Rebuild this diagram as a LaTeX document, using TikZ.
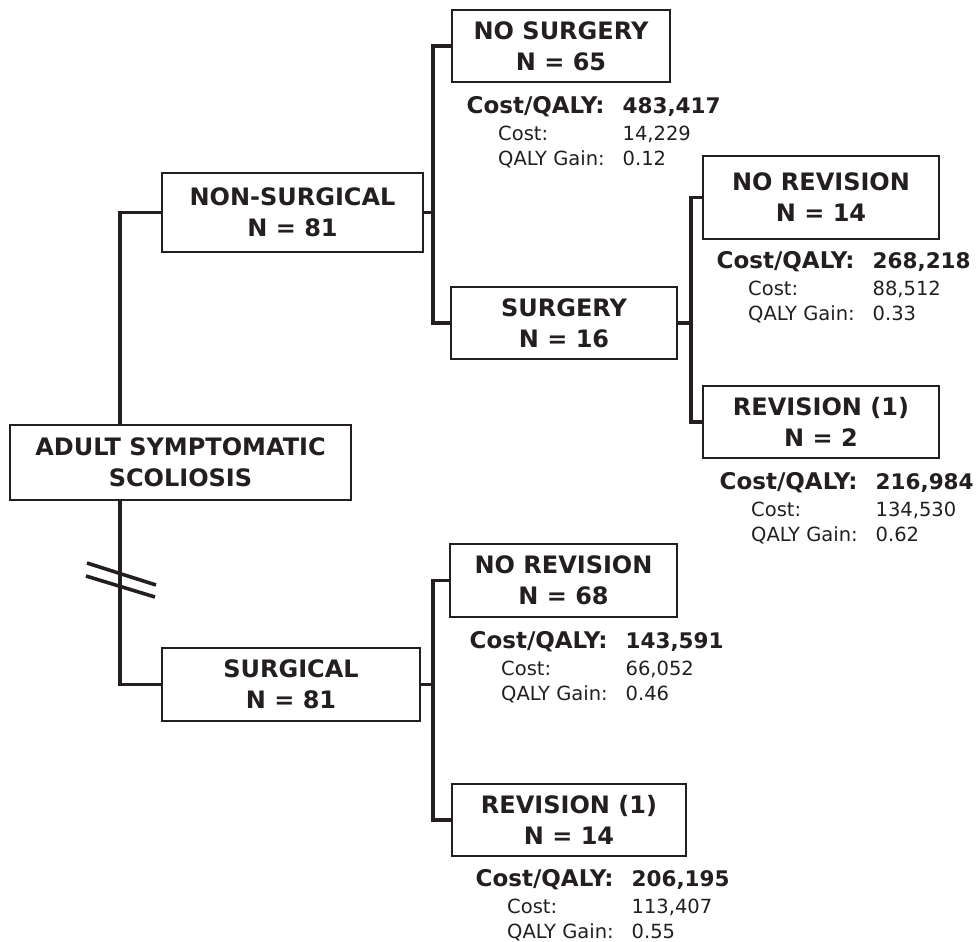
\documentclass[tikz,border=0pt]{standalone}
\usepackage{fontspec}
\setmainfont{DejaVu Sans}
\usepackage{array}
\definecolor{ink}{HTML}{231F20}
\newcommand{\cqlab}{\multicolumn{1}{@{}r@{\hspace{18pt}}}{\llap{\bfseries\fontsize{23}{25}\selectfont Cost/QALY:}}}
\newcommand{\cqval}[1]{{\bfseries\fontsize{21.5}{25}\selectfont #1}}

\begin{document}
\begin{tikzpicture}[x=1pt,y=-1pt,
  box/.style={draw=ink, line width=2.8pt, text=ink, inner sep=0pt, align=center,
    font=\fontsize{24}{31}\selectfont\bfseries},
  link/.style={draw=ink, line width=3.9pt},
  info/.style={inner sep=0pt, text=ink, anchor=base west, font=\fontsize{19.5}{25}\selectfont}]

\useasboundingbox (0,0) rectangle (977,942);

% decision boxes
\node[box, minimum width=341pt, minimum height=75pt] (root) at (180.5,462.5) {ADULT SYMPTOMATIC\\SCOLIOSIS};
\node[box, minimum width=261pt, minimum height=79pt] (nonsurg) at (292.5,212.5) {NON-SURGICAL\\N = 81};
\node[box, minimum width=258pt, minimum height=73pt] (surg) at (291,684.5) {SURGICAL\\N = 81};
\node[box, minimum width=218pt, minimum height=72pt] (nosurg) at (561,46) {NO SURGERY\\N = 65};
\node[box, minimum width=226pt, minimum height=72pt] (surgery) at (564,323) {SURGERY\\N = 16};
\node[box, minimum width=236pt, minimum height=83pt] (norevA) at (821,197.5) {NO REVISION\\N = 14};
\node[box, minimum width=236pt, minimum height=72pt] (revA) at (821,422) {REVISION (1)\\N = 2};
\node[box, minimum width=227pt, minimum height=73pt] (norevB) at (563.5,580.5) {NO REVISION\\N = 68};
\node[box, minimum width=234pt, minimum height=72pt] (revB) at (569,820) {REVISION (1)\\N = 14};

% branches
\coordinate (trunk) at (120,462.5);
\draw[link] (trunk |- root.north) |- (nonsurg.west);
\draw[link] (trunk |- root.south) |- (surg.west);

\coordinate (splitA) at (433,212.5);
\draw[link] (nonsurg.east) -- (splitA);
\draw[link] (nosurg.west) -| (splitA) |- (surgery.west);

\coordinate (splitB) at (691,323);
\draw[link] (surgery.east) -- (splitB);
\draw[link] (norevA.west) -| (splitB) |- (revA.west);

\coordinate (splitC) at (433,684.5);
\draw[link] (surg.east) -- (splitC);
\draw[link] (norevB.west) -| (splitC) |- (revB.west);

% break marks
\draw[ink, line width=3.6pt] (87,563) -- (156,585);
\draw[ink, line width=3.6pt] (86,576) -- (155,597);

% results
\node[info] (nosurg-info) at (498,113) {\begin{tabular}[t]{@{}l@{\hspace{18pt}}l@{}}
  \cqlab & \cqval{483,417}\\[2pt] Cost: & 14,229\\ QALY Gain: & 0.12\end{tabular}};
\node[info] (norevA-info) at (748,268) {\begin{tabular}[t]{@{}l@{\hspace{18pt}}l@{}}
  \cqlab & \cqval{268,218}\\[2pt] Cost: & 88,512\\ QALY Gain: & 0.33\end{tabular}};
\node[info] (revA-info) at (751,489) {\begin{tabular}[t]{@{}l@{\hspace{18pt}}l@{}}
  \cqlab & \cqval{216,984}\\[2pt] Cost: & 134,530\\ QALY Gain: & 0.62\end{tabular}};
\node[info] (norevB-info) at (501,648) {\begin{tabular}[t]{@{}l@{\hspace{18pt}}l@{}}
  \cqlab & \cqval{143,591}\\[2pt] Cost: & 66,052\\ QALY Gain: & 0.46\end{tabular}};
\node[info] (revB-info) at (507,886) {\begin{tabular}[t]{@{}l@{\hspace{18pt}}l@{}}
  \cqlab & \cqval{206,195}\\[2pt] Cost: & 113,407\\ QALY Gain: & 0.55\end{tabular}};

\end{tikzpicture}
\end{document}
